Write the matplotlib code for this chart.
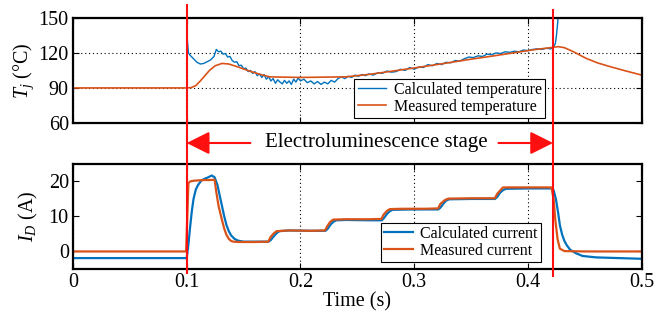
import matplotlib
matplotlib.use("Agg")
import matplotlib.pyplot as plt
import matplotlib.transforms as mtransforms
from matplotlib.lines import Line2D

plt.rcParams["font.family"] = ["Liberation Serif", "DejaVu Serif"]
plt.rcParams["mathtext.fontset"] = "custom"
plt.rcParams["mathtext.rm"] = "Liberation Serif"
plt.rcParams["mathtext.it"] = "Liberation Serif:italic"

BLUE = "#0072BD"
ORANGE = "#D95319"
RED = "#FF1010"

# measured junction temperature (orange)
t_meas_temp = [0, 0.1, 0.104, 0.108, 0.112, 0.116, 0.12, 0.125, 0.131, 0.137,
               0.145, 0.155, 0.165, 0.173, 0.2, 0.24, 0.261, 0.28, 0.302, 0.325,
               0.349, 0.37, 0.39, 0.407, 0.418, 0.4265, 0.432, 0.44, 0.451,
               0.461, 0.472, 0.485, 0.5]
meas_temp = [90, 90, 90.3, 92, 96, 100.5, 105, 109, 111, 110.5,
             108, 104.5, 101.5, 99.5, 99, 99.5, 101.7, 104.3, 107.4, 110.8,
             114.5, 117.5, 120.5, 123, 124.3, 125.4, 124.5, 121, 115.4,
             111.5, 108.3, 104.8, 101]

# calculated junction temperature (blue), only during the EL stage
t_calc_temp = [0.1005, 0.1015, 0.103, 0.106, 0.109, 0.112, 0.115, 0.118, 0.121,
               0.124, 0.126, 0.128, 0.130, 0.132, 0.134, 0.136, 0.138, 0.140,
               0.142, 0.144, 0.146, 0.148, 0.150, 0.152, 0.154, 0.156, 0.158,
               0.160, 0.162, 0.164, 0.166, 0.168, 0.170, 0.172, 0.174, 0.176,
               0.178, 0.180, 0.182, 0.184, 0.186, 0.188, 0.190, 0.192, 0.194,
               0.196, 0.198, 0.200, 0.203, 0.206, 0.209, 0.212, 0.215, 0.218,
               0.221, 0.224, 0.227, 0.230, 0.233, 0.236, 0.239, 0.242, 0.245,
               0.248, 0.251, 0.254, 0.257, 0.260, 0.264, 0.268, 0.272, 0.276,
               0.280, 0.284, 0.288, 0.292, 0.296, 0.300, 0.304, 0.308, 0.312,
               0.316, 0.320, 0.324, 0.328, 0.332, 0.336, 0.340, 0.344, 0.348,
               0.352, 0.356, 0.360, 0.364, 0.368, 0.372, 0.376, 0.380, 0.384,
               0.388, 0.392, 0.396, 0.400, 0.404, 0.408, 0.412, 0.416, 0.420,
               0.422, 0.424, 0.425, 0.426, 0.4268]
calc_temp = [132, 120, 118, 115, 112, 110.5, 111, 112.5, 114,
             117, 123, 121, 121.5, 119, 119.5, 116.5, 117, 113.5,
             112, 112.5, 109, 109.5, 106.5, 107, 104, 105, 102.5,
             104, 100.5, 102, 99, 101.5, 97.5, 99.5, 96, 98,
             94, 97, 95, 93.5, 96.5, 94, 96, 93, 97.5,
             95, 98.5, 96, 97.5, 94.5, 96, 93.5, 95.5, 93,
             95, 93.5, 96.5, 95, 98, 99.5, 98, 100, 99,
             101, 100, 101.5, 100.5, 102, 101, 103, 102.5, 104.5,
             103.5, 104, 106, 105, 107.5, 106, 108, 107.5, 110,
             109, 111, 110, 112, 111.5, 113.5, 113, 115, 116.5,
             116, 117.5, 117, 119, 118.5, 120, 119.5, 121, 120.5,
             121.5, 121, 122.5, 122, 123, 123.5, 123, 124, 123.5,
             124.5, 128, 135, 145, 155]

# measured current (orange)
t_meas_cur = [0, 0.05, 0.0995, 0.1005, 0.1015, 0.103, 0.106, 0.11, 0.115, 0.12,
              0.1245, 0.126, 0.128, 0.1295, 0.131, 0.133, 0.135, 0.137, 0.139,
              0.141, 0.145, 0.16, 0.1717, 0.1735, 0.176, 0.179, 0.19, 0.21,
              0.2215, 0.2235, 0.226, 0.2287, 0.24, 0.26, 0.2712, 0.273, 0.276,
              0.2786, 0.29, 0.31, 0.321, 0.323, 0.327, 0.330, 0.35, 0.3708,
              0.373, 0.376, 0.378, 0.39, 0.41, 0.4206, 0.4225, 0.424, 0.426,
              0.428, 0.432, 0.45, 0.5]
meas_cur = [0, 0, 0, 10, 19.5, 20, 20.2, 20.3, 20.4, 20.4,
            20.5, 17, 13, 11, 9, 6.5, 4.7, 3.6, 3.0,
            2.8, 2.7, 2.7, 2.8, 4, 5, 5.8, 6, 5.9,
            6, 7.2, 8.4, 9.1, 9.2, 9.2, 9.3, 10.5, 11.6,
            12.1, 12.2, 12.2, 12.3, 13.6, 14.7, 15.1, 15.2, 15.2,
            16.5, 17.6, 18.3, 18.3, 18.3, 18.3, 15, 9, 3.5,
            0.8, 0.1, 0, 0]

# calculated current (blue)
t_calc_cur = [0, 0.05, 0.1, 0.1015, 0.103, 0.1045, 0.106, 0.108, 0.110, 0.113,
              0.116, 0.119, 0.122, 0.1245, 0.127, 0.129, 0.131, 0.133, 0.135,
              0.137, 0.139, 0.142, 0.145, 0.15, 0.16, 0.172, 0.174, 0.1765,
              0.179, 0.1815, 0.19, 0.21, 0.222, 0.224, 0.2265, 0.229, 0.2315,
              0.24, 0.26, 0.2715, 0.2735, 0.276, 0.2785, 0.281, 0.30, 0.321,
              0.323, 0.3255, 0.328, 0.3305, 0.35, 0.371, 0.373, 0.3755, 0.378,
              0.3805, 0.40, 0.4206, 0.4225, 0.4245, 0.4265, 0.428, 0.430, 0.432,
              0.434, 0.437, 0.442, 0.448, 0.46, 0.48, 0.5]
calc_cur = [-1.9, -1.9, -1.9, 2, 7, 11.5, 15, 17.7, 19, 20.3,
            20.8, 21.2, 21.7, 21.2, 19, 16, 13, 10, 7.5,
            5.8, 4.6, 3.6, 3.1, 2.8, 2.8, 2.8, 3.3, 4.3,
            5.2, 5.8, 6.0, 5.9, 5.9, 6.5, 7.7, 8.5, 8.9,
            9.0, 8.9, 8.9, 9.6, 10.7, 11.5, 11.9, 12.0, 12.0,
            12.5, 13.6, 14.5, 14.9, 15.0, 15.0, 15.6, 16.8, 17.5,
            17.9, 18.0, 18.0, 17.5, 15, 11, 7.5, 4.8, 3,
            1.8, 0.5, -0.5, -1.3, -1.7, -1.9, -2.1]

el_start, el_end = 0.1, 0.422

fig = plt.figure(figsize=(6.63, 3.12), dpi=100)
ax1 = fig.add_axes([0.110, 0.606, 0.858, 0.3365])
ax2 = fig.add_axes([0.110, 0.138, 0.858, 0.3365])

ax1.plot(t_calc_temp, calc_temp, color=BLUE, lw=1.0, label="Calculated temperature")
ax1.plot(t_meas_temp, meas_temp, color=ORANGE, lw=1.2, label="Measured temperature")
ax1.set_ylim(60, 150)
ax1.set_yticks([60, 90, 120, 150])
ax1.set_ylabel("$T_j$ (°C)", fontsize=14.5, labelpad=2)

ax2.plot(t_calc_cur, calc_cur, color=BLUE, lw=1.6, label="Calculated current")
ax2.plot(t_meas_cur, meas_cur, color=ORANGE, lw=1.6, label="Measured current")
ax2.set_ylim(-5, 25)
ax2.set_yticks([0, 10, 20])
ax2.set_ylabel("$I_D$ (A)", fontsize=14.5, labelpad=6)
ax2.set_xlabel("Time (s)", fontsize=14.5, labelpad=0)

grid_kw = dict(color="black", linestyle=(0, (1, 2.5)), linewidth=0.8)
for ax in (ax1, ax2):
    ax.set_xlim(0, 0.5)
    ax.set_xticks([0, 0.1, 0.2, 0.3, 0.4, 0.5])
    ax.tick_params(direction="in", top=True, right=True, length=4, width=0.8,
                   labelsize=14.5, pad=3)
    for s in ax.spines.values():
        s.set_linewidth(1.6)
    ax.grid(axis="x", **grid_kw)
ax1.grid(axis="y", **grid_kw)
ax1.tick_params(labelbottom=False)
ax2.set_xticklabels(["0", "0.1", "0.2", "0.3", "0.4", "0.5"])

leg_kw = dict(loc="lower right", fontsize=11.5, fancybox=False, edgecolor="black",
              framealpha=1, borderpad=0.2, labelspacing=0.05, handlelength=1.8,
              handletextpad=0.45, borderaxespad=0)
leg1 = ax1.legend(bbox_to_anchor=(0.8295, 0.048), **leg_kw)
leg1.get_frame().set_linewidth(0.8)
leg2 = ax2.legend(bbox_to_anchor=(0.8225, 0.067), **leg_kw)
leg2.get_frame().set_linewidth(0.8)

# red stage markers spanning both panels
trans = mtransforms.blended_transform_factory(ax2.transData, fig.transFigure)
fig.add_artist(Line2D([el_start, el_start], [1 - 5 / 312, 1 - 273 / 312],
                      transform=trans, color=RED, lw=1.5))
fig.add_artist(Line2D([el_end, el_end], [1 - 10 / 312, 1 - 276 / 312],
                      transform=trans, color=RED, lw=1.5))

y_arrow = 1 - 143 / 312
arrow_kw = dict(arrowstyle="-|>,head_length=1.0,head_width=0.5", mutation_scale=14,
                color=RED, lw=1.5, shrinkA=0, shrinkB=0)
ax2.annotate("", xy=(el_start, y_arrow), xytext=(0.156, y_arrow),
             xycoords=trans, textcoords=trans, arrowprops=arrow_kw)
ax2.annotate("", xy=(el_end, y_arrow), xytext=(0.374, y_arrow),
             xycoords=trans, textcoords=trans, arrowprops=arrow_kw)
fig.text(0.568, y_arrow, "Electroluminescence stage", fontsize=15,
         ha="center", va="center")

fig.savefig("out.png", dpi=100)
